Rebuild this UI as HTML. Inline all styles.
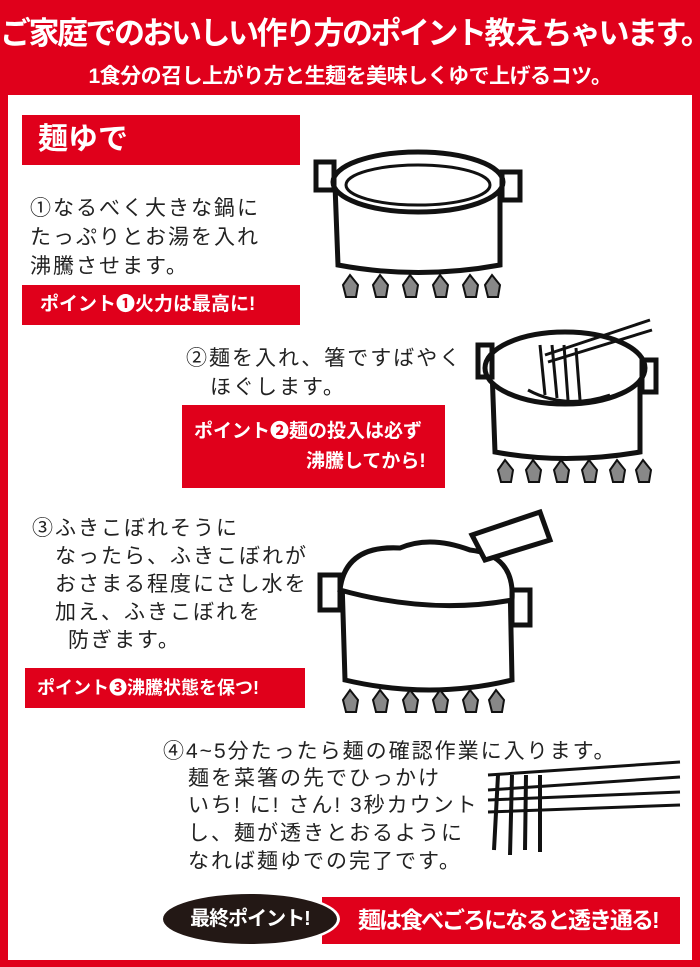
<!DOCTYPE html>
<html><head><meta charset="utf-8"><style>
body{margin:0;width:700px;height:967px;background:#e0001b;position:relative;overflow:hidden;font-family:"Liberation Sans","Noto Sans CJK JP",sans-serif}
.a{position:absolute;white-space:nowrap}
.panel{position:absolute;left:8px;top:95px;width:684px;height:865px;background:#fff}
.t{font-size:21px;color:#222;letter-spacing:2px}
.red{position:absolute;background:#e0001b;color:#fff;font-weight:bold;white-space:nowrap;overflow:hidden}
</style></head><body>
<div class="a" style="left:0;top:8px;width:700px;text-align:center;color:#fff;font-weight:bold;font-size:31px;letter-spacing:-2.5px">ご家庭でのおいしい作り方のポイント教えちゃいます。</div>
<div class="a" style="left:0;top:60px;width:700px;text-align:center;color:#fff;font-weight:bold;font-size:21px;letter-spacing:-0.5px">1食分の召し上がり方と生麺を美味しくゆで上げるコツ。</div>
<div class="panel"></div>

<div class="red" style="left:22px;top:115px;width:278px;height:50px;font-size:30px;line-height:50px;padding-left:16px;box-sizing:border-box">麺ゆで</div>

<div class="a t" style="left:30px;top:192px">①なるべく大きな鍋に</div>
<div class="a t" style="left:30px;top:221px">たっぷりとお湯を入れ</div>
<div class="a t" style="left:30px;top:250px">沸騰させます。</div>
<div class="red" style="left:22px;top:285px;width:278px;height:40px;font-size:19px;line-height:40px;padding-left:18px;box-sizing:border-box">ポイント❶火力は最高に!</div>

<div class="a t" style="left:186px;top:342px">②麺を入れ、箸ですばやく</div>
<div class="a t" style="left:210px;top:371px">ほぐします。</div>
<div class="red" style="left:182px;top:405px;width:263px;height:83px;font-size:19px;line-height:30px;padding:12px 0 0 12px;box-sizing:border-box">ポイント❷麺の投入は必ず<br><span style="padding-left:112px">沸騰してから!</span></div>

<div class="a t" style="left:32px;top:512px">③ふきこぼれそうに</div>
<div class="a t" style="left:55px;top:540px">なったら、ふきこぼれが</div>
<div class="a t" style="left:55px;top:568px">おさまる程度にさし水を</div>
<div class="a t" style="left:55px;top:596px">加え、ふきこぼれを</div>
<div class="a t" style="left:68px;top:624px">防ぎます。</div>
<div class="red" style="left:25px;top:668px;width:280px;height:40px;font-size:18px;line-height:40px;padding-left:12px;box-sizing:border-box">ポイント❸沸騰状態を保つ!</div>

<div class="a t" style="left:163px;top:735px">④4~5分たったら麺の確認作業に入ります。</div>
<div class="a t" style="left:188px;top:762px">麺を菜箸の先でひっかけ</div>
<div class="a t" style="left:188px;top:789px">いち! に! さん! 3秒カウント</div>
<div class="a t" style="left:188px;top:817px">し、麺が透きとおるように</div>
<div class="a t" style="left:188px;top:845px">なれば麺ゆでの完了です。</div>

<div class="red" style="left:322px;top:897px;width:358px;height:47px;font-size:23px;line-height:47px;padding-left:36px;box-sizing:border-box;letter-spacing:-2px">麺は食べごろになると透き通る!</div>
<div class="a" style="left:160px;top:891px;width:180px;height:56px;border-radius:50%;background:#231815;border:3px solid #fff;box-sizing:border-box;color:#fff;font-weight:bold;font-size:20px;line-height:50px;text-align:center;letter-spacing:-1px">最終ポイント!</div>

<svg class="a" style="left:0;top:0" width="700" height="967">
<g fill="none" stroke="#111" stroke-width="5">
<path d="M335 185 L338 265 Q418 280 500 265 L500 185" fill="#fff"/>
<ellipse cx="418" cy="182" rx="85" ry="30" fill="#fff"/>
<ellipse cx="418" cy="185" rx="72" ry="20" stroke-width="3"/>
<rect x="316" y="162" width="18" height="28"/><rect x="502" y="172" width="18" height="28"/>
<path d="M492 370 L495 452 Q565 465 640 452 L640 370" fill="#fff"/>
<ellipse cx="565" cy="368" rx="80" ry="36" fill="#fff"/>
<rect x="478" y="345" width="14" height="32"/><rect x="642" y="360" width="14" height="32"/>
<path d="M540 345 L545 395 M552 345 L557 398 M564 345 L568 400 M576 348 L580 400 M528 390 Q565 410 610 395" stroke-width="3"/>
<path d="M545 355 L650 320 M548 362 L652 330" stroke-width="3"/>
<path d="M342 580 L345 680 Q430 700 512 680 L510 580" fill="#fff"/>
<path d="M340 590 Q345 545 400 548 Q430 535 470 550 Q515 555 512 600 Q430 615 340 590Z" fill="#fff"/>
<rect x="320" y="575" width="20" height="35"/><rect x="512" y="590" width="18" height="35"/>
<path d="M472 535 L540 512 L550 540 L485 560Z" fill="#fff"/>
<path d="M488 775 L680 762 M488 790 L680 777 M488 800 L680 792 M488 812 L680 805" stroke-width="3"/>
<path d="M498 775 L494 850 M512 775 L510 855 M526 775 L525 850 M540 775 L540 852" stroke-width="4"/>
</g>
<g fill="#888" stroke="#111" stroke-width="2">
<path d="M350 275 l8 10 l-2 12 l-10 0 l-3 -12Z"/><path d="M380 275 l8 10 l-2 12 l-10 0 l-3 -12Z"/><path d="M410 275 l8 10 l-2 12 l-10 0 l-3 -12Z"/><path d="M440 275 l8 10 l-2 12 l-10 0 l-3 -12Z"/><path d="M470 275 l8 10 l-2 12 l-10 0 l-3 -12Z"/><path d="M492 275 l8 10 l-2 12 l-10 0 l-3 -12Z"/>
<path d="M505 460 l8 10 l-2 12 l-10 0 l-3 -12Z"/><path d="M533 460 l8 10 l-2 12 l-10 0 l-3 -12Z"/><path d="M561 460 l8 10 l-2 12 l-10 0 l-3 -12Z"/><path d="M589 460 l8 10 l-2 12 l-10 0 l-3 -12Z"/><path d="M617 460 l8 10 l-2 12 l-10 0 l-3 -12Z"/><path d="M643 460 l8 10 l-2 12 l-10 0 l-3 -12Z"/>
<path d="M350 690 l8 10 l-2 12 l-10 0 l-3 -12Z"/><path d="M380 690 l8 10 l-2 12 l-10 0 l-3 -12Z"/><path d="M410 690 l8 10 l-2 12 l-10 0 l-3 -12Z"/><path d="M440 690 l8 10 l-2 12 l-10 0 l-3 -12Z"/><path d="M470 690 l8 10 l-2 12 l-10 0 l-3 -12Z"/><path d="M496 690 l8 10 l-2 12 l-10 0 l-3 -12Z"/>
</g>
</svg>
</body></html>
